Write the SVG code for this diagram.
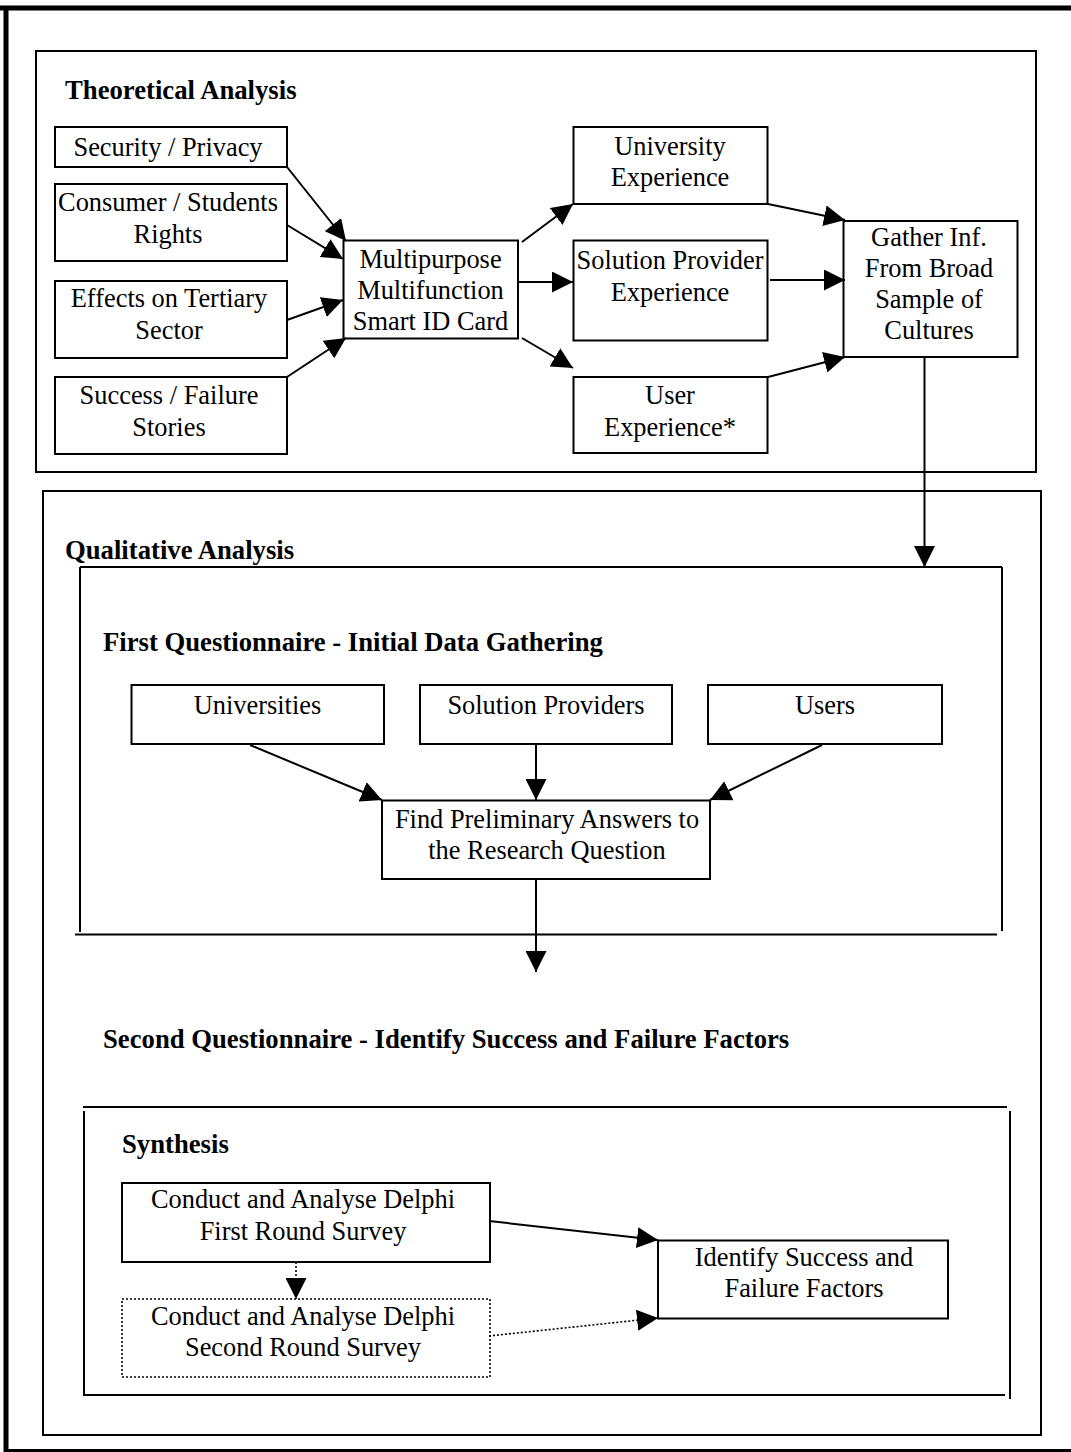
<svg xmlns="http://www.w3.org/2000/svg" width="1071" height="1452" viewBox="0 0 1071 1452">
<defs>
<marker id="ah" markerUnits="userSpaceOnUse" markerWidth="21" markerHeight="21" viewBox="0 0 21 21" refX="21" refY="10.5" orient="auto"><path d="M0,0 L21,10.5 L0,21 Z" fill="#000"/></marker>
<style>
.box{fill:#fff;stroke:#000;stroke-width:2}
.dot{fill:#fff;stroke:#000;stroke-width:1.6;stroke-dasharray:2 2}
.frame{fill:none;stroke:#000;stroke-width:2}
text{font-family:'Liberation Serif','Times New Roman',serif;font-size:26.4px;fill:#000}
.t{text-anchor:middle}
.h{font-weight:bold;font-size:26.7px}
.c{fill:none;stroke:#000;stroke-width:2;marker-end:url(#ah)}
.cd{fill:none;stroke:#000;stroke-width:1.6;stroke-dasharray:2 2;marker-end:url(#ah)}
</style>
</defs>
<rect width="1071" height="1452" fill="#fff"/>
<g id="outer-frame" stroke="#000" fill="none">
<line x1="0" y1="8" x2="1071" y2="8" stroke-width="5"/>
<line x1="6" y1="6" x2="6" y2="1452" stroke-width="5"/>
<line x1="4" y1="1450.5" x2="1071" y2="1450.5" stroke-width="3"/>
</g>
<g id="theoretical-analysis">
<rect class="frame" x="36" y="51" width="1000" height="421"/>
<text class="h" x="65" y="99">Theoretical Analysis</text>
</g>
<g id="qualitative-analysis">
<rect class="frame" x="43" y="491" width="998" height="944"/>
<text class="h" x="65" y="559">Qualitative Analysis</text>
</g>
<g id="first-questionnaire">
<path class="frame" d="M80,567 H1002 M80,567 V932 M1002,567 V931 M75,934.5 H997"/>
<text class="h" x="103" y="651">First Questionnaire - Initial Data Gathering</text>
</g>
<g id="second-questionnaire">
<text class="h" x="103" y="1048">Second Questionnaire - Identify Success and Failure Factors</text>
</g>
<g id="synthesis">
<path class="frame" d="M83,1107 H1007 M84,1111 V1395 M1010,1111 V1399 M83,1395 H1005"/>
<text class="h" x="122" y="1153">Synthesis</text>
</g>

<g id="security-privacy">
<rect class="box" x="55" y="127" width="232" height="40"/>
<text class="t" x="168" y="156">Security / Privacy</text>
</g>
<g id="consumer-rights">
<rect class="box" x="55" y="184" width="232" height="77"/>
<text class="t" x="168" y="211">Consumer / Students</text>
<text class="t" x="168" y="243">Rights</text>
</g>
<g id="effects-tertiary">
<rect class="box" x="55" y="281" width="232" height="77"/>
<text class="t" x="169" y="307">Effects on Tertiary</text>
<text class="t" x="169" y="339">Sector</text>
</g>
<g id="success-failure-stories">
<rect class="box" x="55" y="377" width="232" height="77"/>
<text class="t" x="169" y="404">Success / Failure</text>
<text class="t" x="169" y="436">Stories</text>
</g>
<g id="smart-id-card">
<rect class="box" x="343.5" y="240.5" width="174.5" height="98"/>
<text class="t" x="430.5" y="268">Multipurpose</text>
<text class="t" x="430.5" y="299">Multifunction</text>
<text class="t" x="430.5" y="330">Smart ID Card</text>
</g>
<g id="university-experience">
<rect class="box" x="573.5" y="127" width="194" height="77"/>
<text class="t" x="670" y="155">University</text>
<text class="t" x="670" y="186">Experience</text>
</g>
<g id="solution-provider-experience">
<rect class="box" x="573.5" y="240.5" width="194" height="100"/>
<text class="t" x="670" y="269">Solution Provider</text>
<text class="t" x="670" y="301">Experience</text>
</g>
<g id="user-experience">
<rect class="box" x="573.5" y="377" width="194" height="76"/>
<text class="t" x="670" y="404">User</text>
<text class="t" x="670" y="436">Experience*</text>
</g>
<g id="gather-inf">
<rect class="box" x="843.5" y="221" width="174" height="136"/>
<text class="t" x="929" y="246">Gather Inf.</text>
<text class="t" x="929" y="277">From Broad</text>
<text class="t" x="929" y="308">Sample of</text>
<text class="t" x="929" y="339">Cultures</text>
</g>

<g id="universities">
<rect class="box" x="131.5" y="685" width="252.5" height="59"/>
<text class="t" x="257.5" y="714">Universities</text>
</g>
<g id="solution-providers">
<rect class="box" x="420" y="685" width="252" height="59"/>
<text class="t" x="546" y="714">Solution Providers</text>
</g>
<g id="users">
<rect class="box" x="708" y="685" width="234" height="59"/>
<text class="t" x="825" y="714">Users</text>
</g>
<g id="preliminary-answers">
<rect class="box" x="382" y="800.5" width="328" height="78.5"/>
<text class="t" x="547" y="828">Find Preliminary Answers to</text>
<text class="t" x="547" y="859">the Research Question</text>
</g>

<g id="delphi-first-round">
<rect class="box" x="122" y="1183" width="368" height="79"/>
<text class="t" x="303" y="1208">Conduct and Analyse Delphi</text>
<text class="t" x="303" y="1240">First Round Survey</text>
</g>
<g id="delphi-second-round">
<rect class="dot" x="122" y="1299" width="368" height="78"/>
<text class="t" x="303" y="1325">Conduct and Analyse Delphi</text>
<text class="t" x="303" y="1356">Second Round Survey</text>
</g>
<g id="success-failure-factors">
<rect class="box" x="658" y="1240.5" width="290" height="78"/>
<text class="t" x="804" y="1266">Identify Success and</text>
<text class="t" x="804" y="1297">Failure Factors</text>
</g>

<g id="connectors">
<line class="c" x1="287" y1="167" x2="346" y2="241"/>
<line class="c" x1="287" y1="225" x2="343" y2="259"/>
<line class="c" x1="287" y1="320" x2="343" y2="300"/>
<line class="c" x1="287" y1="377" x2="346" y2="338"/>
<line class="c" x1="522" y1="242" x2="573" y2="204"/>
<line class="c" x1="518" y1="282" x2="573" y2="282"/>
<line class="c" x1="522" y1="338" x2="573" y2="368"/>
<line class="c" x1="768" y1="204" x2="845" y2="220"/>
<line class="c" x1="770" y1="280" x2="845" y2="280"/>
<line class="c" x1="768" y1="377" x2="845" y2="357"/>
<line class="c" x1="924.5" y1="357" x2="924.5" y2="567"/>
<line class="c" x1="250" y1="745" x2="382" y2="800"/>
<line class="c" x1="536" y1="744" x2="536" y2="800"/>
<line class="c" x1="822" y1="745" x2="710" y2="800"/>
<line class="c" x1="536" y1="879" x2="536" y2="972"/>
<line class="c" x1="489" y1="1221" x2="658" y2="1240"/>
<line class="cd" x1="296" y1="1262" x2="296" y2="1299"/>
<line class="cd" x1="489" y1="1336" x2="658" y2="1318"/>
</g>
</svg>
